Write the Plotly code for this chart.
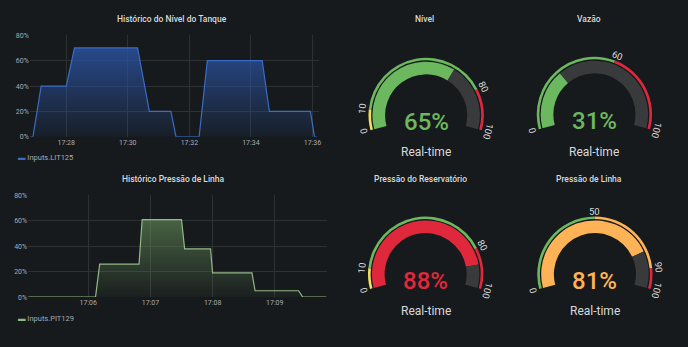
import math
import plotly.graph_objects as go

DAY = "2024-05-10 "

# ---------------- data ----------------
level_title = "Histórico do Nível do Tanque"
level_series = "Inputs.LIT125"
level_times = ["17:26:50", "17:26:55", "17:27:11", "17:28:00", "17:28:16", "17:30:19",
               "17:30:42", "17:31:24", "17:31:34", "17:32:19", "17:32:35", "17:34:22",
               "17:34:36", "17:35:56", "17:36:04", "17:36:08"]
level_values = [0, 0, 40, 40, 70, 70, 20, 20, 0, 0, 60, 60, 20, 20, 0, 0]
level_xticks = ["17:28", "17:30", "17:32", "17:34", "17:36"]
level_xrange = ["17:26:49", "17:36:12"]

pressure_title = "Histórico Pressão de Linha"
pressure_series = "Inputs.PIT129"
pressure_times = ["17:05:02", "17:06:07", "17:06:11", "17:06:49", "17:06:52", "17:07:30",
                  "17:07:33", "17:07:58", "17:08:00", "17:08:38", "17:08:41", "17:09:23",
                  "17:09:27", "17:09:50"]
pressure_values = [0, 0, 26, 26, 61, 61, 38, 38, 19, 19, 5, 5, 0, 0]
pressure_xticks = ["17:06", "17:07", "17:08", "17:09"]
pressure_xrange = ["17:05:02", "17:09:50"]

y_ticks = [0, 20, 40, 60, 80]
y_ticklabels = ["0%", "20%", "40%", "60%", "80%"]

gauge_titles = ["Nível", "Vazão", "Pressão do Reservatório", "Pressão de Linha"]
gauge_values = [65, 31, 88, 81]
gauge_steps = [[0, 10, 80], [0, 60], [0, 10, 80], [0, 50, 90]]
gauge_step_colors = [["yellow", "green", "red"], ["green", "red"],
                     ["yellow", "green", "red"], ["green", "orange", "red"]]
gauge_max = 100
gauge_subtitle = "Real-time"

# ---------------- style ----------------
W, H = 688, 347
BG = "#161a1c"
FONT = "Roboto"
TEXT = "#d8d9da"
TICK = "#a9abb0"
GRID = "#2d3134"
PALETTE = {"green": "#6cb85f", "yellow": "#f2e05a", "red": "#e0283c", "orange": "#ffb357"}
TRACK = "#383a3b"

# time series panels (pixel geometry)
ts_panels = [
    dict(x0=30, x1=320, ytop=32, ybot=136, title_xy=(173, 15), legend_xy=(16, 157),
         line="#3a6cc6", fill_rgb="44,86,170", top_a=0.78, bot_a=0.06),
    dict(x0=28.3, x1=328, ytop=196, ybot=300, title_xy=(174, 179), legend_xy=(16, 321.5),
         line="#93b886", fill_rgb="112,156,98", top_a=0.55, bot_a=0.03),
]

# gauges (pixel geometry)
g_centers = [(428, 114), (597, 113), (427.5, 276.5), (597.5, 276.5)]
g_title_xy = [(426, 15), (592, 15), (422.5, 179), (592, 179)]
R_DOM = 60
BAR = (42, 55)
BAND = (56.3, 59)
LABEL_R = 64.5
START_ANG = 195.0
SPAN = 210.0


def px(x, y):
    return x / W, 1 - y / H


def ang(v):
    return START_ANG - SPAN * v / gauge_max


fig = go.Figure()
annotations = []

# ---------------- time series ----------------
series = [
    (level_title, level_series, level_times, level_values, level_xticks, level_xrange),
    (pressure_title, pressure_series, pressure_times, pressure_values, pressure_xticks, pressure_xrange),
]
for i, (title, name, times, vals, xt, xr) in enumerate(series):
    p = ts_panels[i]
    xs = "" if i == 0 else str(i + 1)
    fig.add_trace(go.Scatter(
        x=[DAY + t for t in times], y=vals, mode="lines", name=name,
        line=dict(color=p["line"], width=1.2),
        fill="tozeroy",
        fillgradient=dict(type="vertical", start=0, stop=max(vals),
                          colorscale=[[0, f"rgba({p['fill_rgb']},{p['bot_a']})"],
                                      [1, f"rgba({p['fill_rgb']},{p['top_a']})"]]),
        xaxis="x" + xs, yaxis="y" + xs, showlegend=False, hoverinfo="skip"))
    axis_common = dict(showgrid=True, gridcolor=GRID, gridwidth=1, zeroline=False,
                       showline=False, ticks="", tickfont=dict(family=FONT, size=7, color=TICK))
    fig.layout["xaxis" + xs] = dict(
        axis_common, type="date", domain=[p["x0"] / W, p["x1"] / W],
        range=[DAY + xr[0], DAY + xr[1]],
        tickvals=[DAY + t + ":00" for t in xt], ticktext=xt,
        anchor="y" + xs)
    fig.layout["yaxis" + xs] = dict(
        axis_common, domain=[1 - p["ybot"] / H, 1 - p["ytop"] / H],
        range=[0, max(y_ticks)], tickvals=y_ticks, ticktext=y_ticklabels,
        anchor="x" + xs)
    tx, ty = px(*p["title_xy"])
    annotations.append(dict(x=tx, y=ty, xref="paper", yref="paper", text=title,
                            showarrow=False, xanchor="center", yanchor="middle",
                            font=dict(family=FONT, size=8.5, color=TEXT, weight=500)))
    lx, ly = px(*p["legend_xy"])
    annotations.append(dict(x=lx, y=ly, xref="paper", yref="paper",
                            text=f"<span style='color:{p['line']}'>▬</span> {name}",
                            showarrow=False, xanchor="left", yanchor="middle",
                            font=dict(family=FONT, size=7.5, color=TICK)))

# ---------------- gauges ----------------
for i, title in enumerate(gauge_titles):
    cx, cy = g_centers[i]
    val = gauge_values[i]
    steps = gauge_steps[i]
    cols = [PALETTE[c] for c in gauge_step_colors[i]]
    vcol = cols[max(k for k, s in enumerate(steps) if s <= val)]
    sub = "polar" if i == 0 else f"polar{i + 1}"

    # thick value bar + track, thin threshold band
    segs = [(0, val, vcol, BAR), (val, gauge_max, TRACK, BAR)]
    bounds = steps + [gauge_max]
    for k in range(len(steps)):
        segs.append((bounds[k], bounds[k + 1], cols[k], BAND))
    fig.add_trace(go.Barpolar(
        theta=[ang((a + b) / 2) for a, b, _, _ in segs],
        width=[SPAN * (b - a) / gauge_max for a, b, _, _ in segs],
        base=[rb[0] for _, _, _, rb in segs],
        r=[rb[1] - rb[0] for _, _, _, rb in segs],
        marker=dict(color=[c for _, _, c, _ in segs], line=dict(width=0)),
        subplot=sub, showlegend=False, hoverinfo="skip"))
    x0, y1 = px(cx - R_DOM, cy - R_DOM)
    x1, y0 = px(cx + R_DOM, cy + R_DOM)
    fig.layout[sub] = dict(
        domain=dict(x=[x0, x1], y=[y0, y1]), bgcolor="rgba(0,0,0,0)",
        radialaxis=dict(visible=False, range=[0, R_DOM]),
        angularaxis=dict(visible=False, direction="counterclockwise", rotation=0))

    # threshold labels
    for t in bounds:
        a = ang(t)
        lx = cx + LABEL_R * math.cos(math.radians(a))
        ly = cy - LABEL_R * math.sin(math.radians(a))
        ax_, ay_ = px(lx, ly)
        annotations.append(dict(x=ax_, y=ay_, xref="paper", yref="paper", text=str(t),
                                showarrow=False, xanchor="center", yanchor="middle",
                                textangle=90 - a,
                                font=dict(family=FONT, size=9.5, color=TEXT)))
    # value and subtitle
    vx, vy = px(cx, cy + 7)
    annotations.append(dict(x=vx, y=vy, xref="paper", yref="paper", text=f"{val}%",
                            showarrow=False, xanchor="center", yanchor="middle",
                            font=dict(family=FONT, size=24, color=vcol, weight=500)))
    sx, sy = px(cx, cy + 38)
    annotations.append(dict(x=sx, y=sy, xref="paper", yref="paper", text=gauge_subtitle,
                            showarrow=False, xanchor="center", yanchor="middle",
                            font=dict(family=FONT, size=12, color=TEXT)))
    tx, ty = px(*g_title_xy[i])
    annotations.append(dict(x=tx, y=ty, xref="paper", yref="paper", text=title,
                            showarrow=False, xanchor="center", yanchor="middle",
                            font=dict(family=FONT, size=8.5, color=TEXT, weight=500)))

fig.update_layout(
    width=W, height=H, autosize=False,
    margin=dict(l=0, r=0, t=0, b=0),
    paper_bgcolor=BG, plot_bgcolor=BG,
    annotations=annotations,
    font=dict(family=FONT, color=TEXT),
)

fig.write_html("out.html")
